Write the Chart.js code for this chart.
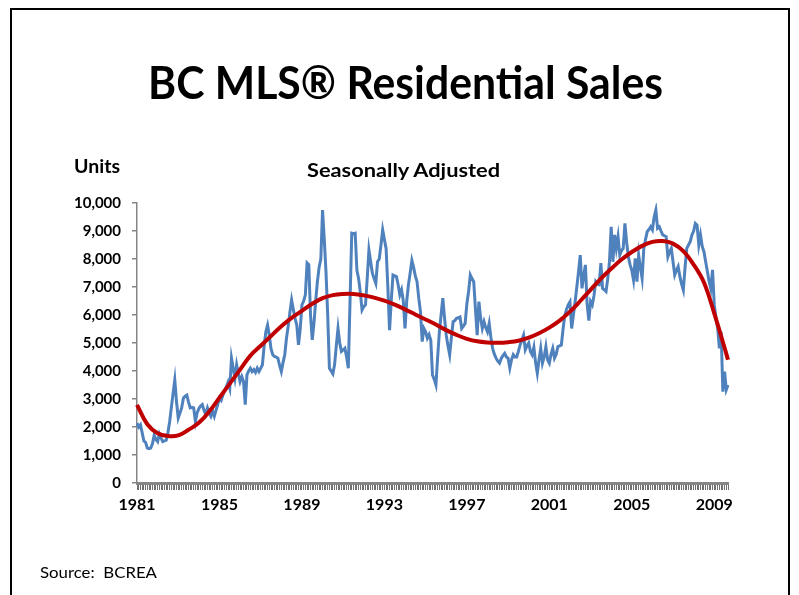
<!DOCTYPE html>
<html>
<head>
<meta charset="utf-8">
<script src="https://cdn.jsdelivr.net/npm/chart.js@4.4.1/dist/chart.umd.min.js"></script>
<style>
  html, body { margin: 0; padding: 0; background: #fff; }
  body { width: 799px; height: 595px; position: relative; overflow: hidden; font-family: Lato, "Liberation Sans", sans-serif; }
  #frame { position: absolute; left: 10px; top: 8px; width: 780px; height: 700px; border: 2px solid #000; box-sizing: border-box; }
  #wrap { position: absolute; left: 0; top: 0; width: 799px; height: 595px; }
  .txt { position: absolute; white-space: nowrap; line-height: 1; color: #000; transform-origin: left top; }
</style>
</head>
<body>
<div id="frame"></div>
<div id="wrap"><canvas id="c"></canvas></div>
<div class="txt" id="title" style="font-size:46px;font-weight:700;">BC MLS® Residential Sales</div>
<div class="txt" id="units" style="font-size:18px;font-weight:700;">Units</div>
<div class="txt" id="sub" style="font-size:19px;font-weight:700;">Seasonally Adjusted</div>
<div class="txt" id="src" style="font-size:15px;font-weight:400;">Source:&nbsp; BCREA</div>
<script>
// ---- data ----
const startYear = 1981;
const tickYears = ['1981', '1985', '1989', '1993', '1997', '2001', '2005', '2009'];
const yTicks = [0, 1000, 2000, 3000, 4000, 5000, 6000, 7000, 8000, 9000, 10000];

// monthly seasonally adjusted residential sales (units), Jan 1981 onward
const sales = [
  2140, 2000, 2080, 1800, 1500, 1450, 1250, 1230, 1250, 1400, 1710, 1550, // 1981
  1475, 1750, 1600, 1475, 1500, 1530, 1800, 2190, 2700, 3200, 3680, 2900, // 1982
  2320, 2500, 2680, 3030, 3100, 3140, 2890, 2680, 2700, 2680, 2190, 2500, // 1983
  2650, 2750, 2800, 2600, 2440, 2680, 2500, 2380, 2570, 2380, 2600, 2800, // 1984
  3030, 2950, 3140, 3300, 3430, 3600, 3380, 4460, 4100, 3740, 4220, 3900, // 1985
  3620, 3800, 3620, 2800, 3860, 4000, 4100, 3980, 4050, 3950, 4100, 3980, // 1986
  4100, 4220, 4900, 5400, 5640, 5280, 4800, 4580, 4520, 4500, 4460, 4200, // 1987
  3980, 4300, 4580, 5170, 5600, 6100, 6540, 6200, 5880, 5640, 4930, 5500, // 1988
  6360, 6500, 6720, 7860, 7800, 6000, 5110, 5700, 6500, 7190, 7700, 8000, // 1989
  9750, 8700, 7550, 6000, 4100, 4000, 3900, 4220, 4900, 5520, 5000, 4700, // 1990
  4750, 4810, 4500, 4100, 6500, 8920, 8900, 8920, 7600, 7300, 6800, 6180, // 1991
  6300, 6360, 7300, 8320, 7900, 7490, 7300, 7130, 7900, 8000, 8500, 9040, // 1992
  8700, 8370, 7000, 5460, 6500, 7430, 7400, 7370, 7080, 6720, 6900, 6500, // 1993
  5520, 6500, 7080, 7500, 7950, 7700, 7400, 7190, 6600, 6120, 5050, 5520, // 1994
  5400, 5170, 5300, 5100, 3860, 3700, 3500, 4500, 5400, 6000, 6600, 5900, // 1995
  5280, 4900, 4580, 5200, 5760, 5800, 5880, 5900, 5930, 5520, 5600, 5700, // 1996
  6400, 6840, 7430, 7300, 7190, 6200, 5280, 6480, 5900, 5520, 5760, 5550, // 1997
  5400, 5700, 5200, 4810, 4600, 4460, 4350, 4280, 4450, 4550, 4630, 4500, // 1998
  4460, 4100, 4400, 4580, 4500, 4500, 4700, 4930, 5100, 5280, 4760, 4900, // 1999
  5000, 4700, 4580, 4850, 4300, 3920, 4400, 4810, 4280, 4500, 4870, 4400, // 2000
  4280, 4600, 4810, 4460, 4600, 4870, 4900, 4930, 5500, 5990, 6200, 6360, // 2001
  6470, 5520, 6000, 6470, 7000, 7550, 8140, 6950, 7400, 7790, 6400, 5800, // 2002
  6480, 6360, 6700, 7190, 7100, 7080, 7850, 6950, 6900, 6840, 7300, 7900, // 2003
  9150, 7900, 8860, 8380, 8800, 8140, 8300, 8380, 9270, 8600, 8080, 7790, // 2004
  7600, 7250, 8020, 7190, 8140, 7700, 7310, 8380, 8700, 8980, 9050, 9150, // 2005
  9040, 9500, 9750, 9100, 9150, 9000, 8860, 8830, 8800, 8080, 8250, 8380, // 2006
  7900, 7430, 7600, 7730, 7370, 7100, 6890, 7700, 8380, 8500, 8620, 8860, // 2007
  9000, 9270, 9210, 8500, 8860, 8450, 8260, 7900, 7550, 7200, 6950, 7610, // 2008
  6360, 5900, 5520, 4810, 5400, 3260, 3980, 3330, 3500                    // 2009
];

// polynomial trend line, read every 6 months (Jan/Jul) plus the final month
const trendMonths = [
  '1981-01','1981-07','1982-01','1982-07','1983-01','1983-07','1984-01','1984-07',
  '1985-01','1985-07','1986-01','1986-07','1987-01','1987-07','1988-01','1988-07',
  '1989-01','1989-07','1990-01','1990-07','1991-01','1991-07','1992-01','1992-07',
  '1993-01','1993-07','1994-01','1994-07','1995-01','1995-07','1996-01','1996-07',
  '1997-01','1997-07','1998-01','1998-07','1999-01','1999-07','2000-01','2000-07',
  '2001-01','2001-07','2002-01','2002-07','2003-01','2003-07','2004-01','2004-07',
  '2005-01','2005-07','2006-01','2006-07','2007-01','2007-07','2008-01','2008-07',
  '2009-01','2009-07','2009-09'
];
const trend = [
  2790, 2100, 1780, 1680, 1700, 1900, 2150, 2550,
  3050, 3550, 4050, 4550, 4900, 5250, 5600, 5900,
  6150, 6400, 6600, 6710, 6750, 6750, 6700, 6620,
  6510, 6370, 6200, 6020, 5840, 5660, 5460, 5290,
  5150, 5060, 5020, 5010, 5030, 5080, 5190, 5350,
  5550, 5800, 6120, 6500, 6900, 7300, 7650, 7980,
  8250, 8470, 8610, 8640, 8550, 8280, 7800, 7160,
  6060, 4830, 4400
];

// ---- build category labels (one per month) ----
const months = sales.map((_, i) => {
  const y = startYear + Math.floor(i / 12);
  const m = (i % 12) + 1;
  return y + '-' + (m < 10 ? '0' + m : '' + m);
});
const trendPoints = trendMonths.map((t, i) => ({ x: t, y: trend[i] }));

Chart.defaults.font.family = 'Lato, "Liberation Sans", sans-serif';
Chart.defaults.color = '#000';

const axisGray = '#868686';

new Chart(document.getElementById('c'), {
  type: 'line',
  data: {
    labels: months,
    datasets: [
      {
        label: 'Trend',
        data: trendPoints,
        borderColor: '#c00000',
        borderWidth: 4,
        pointRadius: 0,
        tension: 0.4,
        fill: false
      },
      {
        label: 'Sales',
        data: sales,
        borderColor: '#4f81bd',
        borderWidth: 3,
        pointRadius: 0,
        tension: 0,
        fill: false
      }
    ]
  },
  options: {
    responsive: true,
    maintainAspectRatio: false,
    animation: false,
    events: [],
    layout: { padding: { left: 57, top: 203, right: 71, bottom: 72 } },
    plugins: { legend: { display: false }, tooltip: { enabled: false }, title: { display: false } },
    scales: {
      x: {
        type: 'category',
        offset: false,
        afterFit: (s) => { s.height = 40; },
        border: { display: true, color: axisGray, width: 3 },
        grid: {
          display: true, drawOnChartArea: false, drawTicks: true, tickLength: 7,
          color: '#707070', tickColor: '#707070', tickWidth: 1, lineWidth: 1
        },
        ticks: {
          autoSkip: false,
          maxRotation: 0,
          minRotation: 0,
          padding: 5,
          font: { size: 16, weight: 'bold' },
          color: '#000',
          callback: function (val, idx) {
            const lab = months[idx];
            const yr = lab.slice(0, 4);
            return (lab.slice(5) === '01' && tickYears.includes(yr) && (idx % 48 === 0)) ? yr : '';
          }
        }
      },
      y: {
        min: yTicks[0],
        max: yTicks[yTicks.length - 1],
        afterFit: (s) => { s.width = 80; },
        afterBuildTicks: (s) => { s.ticks = yTicks.map(v => ({ value: v })); },
        border: { display: true, color: axisGray, width: 1.5 },
        grid: { display: true, drawOnChartArea: false, drawTicks: true, tickLength: 5, color: axisGray, lineWidth: 1.5 },
        ticks: {
          padding: 11,
          font: { size: 15, weight: 'bold' },
          color: '#000',
          callback: (v) => v.toLocaleString('en-US')
        }
      }
    }
  }
});

// ---- place text overlays: fit to measured widths/positions ----
function place(id, left, top, width) {
  const el = document.getElementById(id);
  el.style.left = left + 'px';
  el.style.top = top + 'px';
  const w = el.getBoundingClientRect().width;
  if (width && w > 0) el.style.transform = 'scaleX(' + (width / w) + ')';
}
place('title', 148, 59, 515);
place('units', 74, 157, 46);
place('sub', 307, 160, 193);
place('src', 40, 565, 117);
</script>
</body>
</html>
